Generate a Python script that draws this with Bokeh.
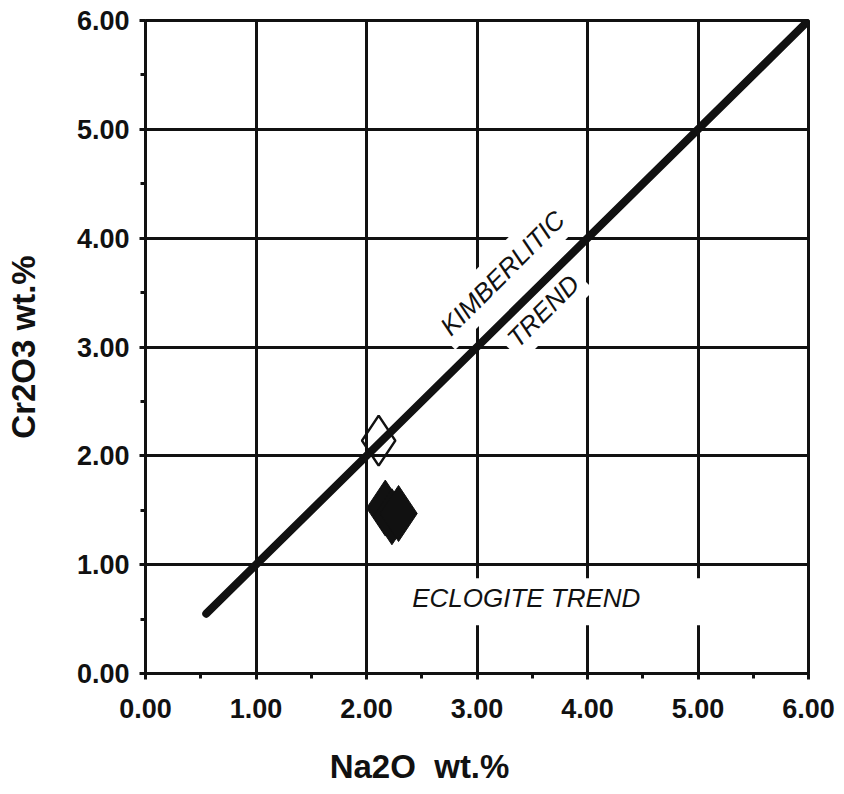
import math

from bokeh.core.properties import value
from bokeh.embed import file_html
from bokeh.models import FixedTicker, LinearAxis, Range1d
from bokeh.plotting import figure
from bokeh.resources import INLINE

# Garnet/clinopyroxene chemistry: Cr2O3 vs Na2O (wt.%)
na2o_open = [2.11]
cr2o3_open = [2.14]

na2o_filled = [2.17, 2.23, 2.29]
cr2o3_filled = [1.52, 1.44, 1.47]

# Kimberlitic trend line end points
trend_na2o = [0.55, 6.0]
trend_cr2o3 = [0.55, 6.0]

tick_values = [0, 1, 2, 3, 4, 5, 6]
tick_labels = ["0.00", "1.00", "2.00", "3.00", "4.00", "5.00", "6.00"]
minor_values = [0.5, 1.5, 2.5, 3.5, 4.5, 5.5]

FONT = "Liberation Sans"
INK = "#111111"

p = figure(
    width=844,
    height=794,
    x_range=Range1d(0, 6),
    y_range=Range1d(0, 6),
    output_backend="svg",
    toolbar_location=None,
    min_border_left=145,
    min_border_right=36,
    min_border_top=20,
    min_border_bottom=121,
    background_fill_color="white",
    border_fill_color="white",
)
p.outline_line_color = INK
p.outline_line_width = 3

for ax in (p.xaxis[0], p.yaxis[0]):
    ax.ticker = FixedTicker(ticks=tick_values, minor_ticks=minor_values)
    ax.major_label_overrides = {v: s for v, s in zip(tick_values, tick_labels)}
    ax.axis_line_color = INK
    ax.axis_line_width = 3
    ax.major_tick_line_color = INK
    ax.major_tick_line_width = 3
    ax.major_tick_in = 0
    ax.major_tick_out = 6
    ax.minor_tick_line_color = INK
    ax.minor_tick_line_width = 3
    ax.minor_tick_in = 0
    ax.minor_tick_out = 5
    ax.major_label_text_font = FONT
    ax.major_label_text_font_style = "bold"
    ax.major_label_text_font_size = "27px"
    ax.major_label_text_color = INK

p.xaxis.major_label_standoff = 19
p.yaxis.major_label_standoff = 10

p.yaxis.axis_label = "Cr2O3 wt.%"
p.yaxis.axis_label_text_font = FONT
p.yaxis.axis_label_text_font_style = "bold"
p.yaxis.axis_label_text_font_size = "33px"
p.yaxis.axis_label_text_color = INK
p.yaxis.axis_label_standoff = 32

for g in (p.xgrid[0], p.ygrid[0]):
    g.ticker = FixedTicker(ticks=tick_values)
    g.grid_line_color = INK
    g.grid_line_width = 3

# Trend labels sit on white boxes that mask the grid behind them
label_style = dict(
    text_font=value(FONT),
    text_font_style="italic",
    text_font_size="26px",
    text_color=INK,
    text_align="center",
    text_baseline="middle",
    background_fill_color="white",
)
p.text(x=[3.23], y=[3.68], text=["KIMBERLITIC"], angle=math.pi / 4, padding=6, **label_style)
p.text(x=[3.60], y=[3.33], text=["TREND"], angle=math.pi / 4, padding=6, **label_style)
p.text(x=[3.74], y=[0.66], text=["ECLOGITE TREND"], padding=(5, 70, 5, 12), **label_style)

# Trend line
p.line(trend_na2o, trend_cr2o3, line_color=INK, line_width=8, line_cap="round")

# Samples
p.scatter(na2o_open, cr2o3_open, marker="diamond", size=50,
          fill_alpha=0, line_color=INK, line_width=2.5)
p.scatter(na2o_filled, cr2o3_filled, marker="diamond", size=56,
          fill_color=INK, line_color=INK, line_width=1)

# Horizontal axis title, set off-centre under the plot by a bare second axis
title_anchor = 2.48
title_axis = LinearAxis(
    ticker=FixedTicker(ticks=[title_anchor], minor_ticks=[]),
    major_label_overrides={title_anchor: "Na2O\u00a0 wt.%"},
    axis_line_color=None,
    major_tick_line_color=None,
    minor_tick_line_color=None,
    major_tick_out=0,
    minor_tick_out=0,
    major_label_standoff=27,
    major_label_text_font=FONT,
    major_label_text_font_style="bold",
    major_label_text_font_size="33px",
    major_label_text_color=INK,
)
p.add_layout(title_axis, "below")

open("out.html", "w").write(file_html(p, INLINE))
